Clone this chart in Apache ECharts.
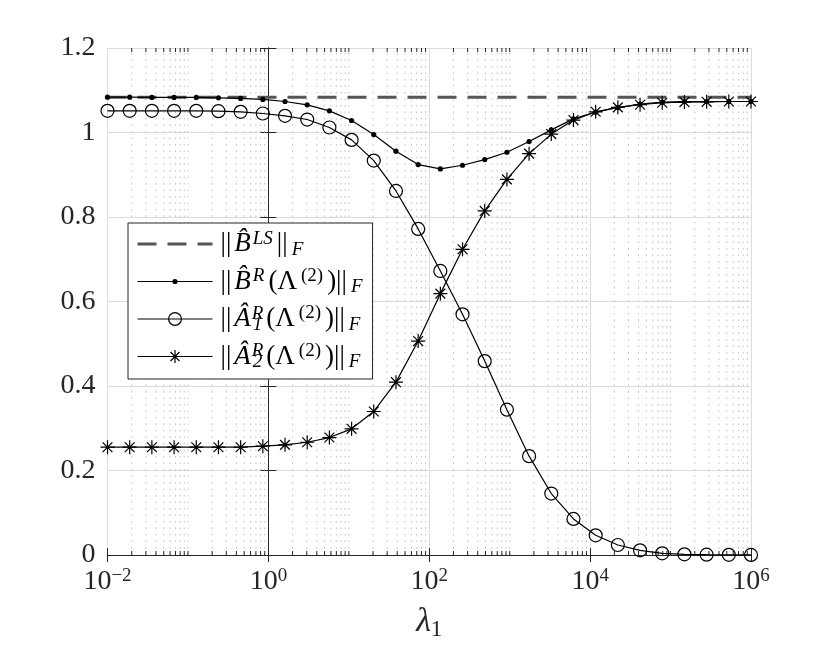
<!DOCTYPE html>
<html>
<head>
<meta charset="utf-8">
<title>Norms versus lambda_1</title>
<script src="https://cdn.jsdelivr.net/npm/echarts@6/dist/echarts.min.js"></script>
<style>
	html, body { margin: 0; padding: 0; background: #fff; }
	#chart { width: 830px; height: 646px; }
</style>
</head>
<body>
<div id="chart"></div>
<script>
// lambda_1 grid: 30 log-spaced points from 1e-2 to 1e6
var lambda = [0.01, 0.01887, 0.03562, 0.06724, 0.1269, 0.2395, 0.4520, 0.8532,
	1.610, 3.039, 5.736, 10.83, 20.43, 38.57, 72.80, 137.4, 259.3, 489.4, 923.7,
	1743, 3290, 6210, 11721, 22122, 41753, 78805, 148735, 280722, 529832, 1000000];

// ||B^LS||_F (constant)
var normBLS = 1.0837;
// ||B^R(Lambda^(2))||_F
var normBR = [1.0837, 1.0837, 1.0829, 1.0829, 1.0829, 1.0821, 1.0806, 1.0782, 1.0734, 1.0655,
	1.0513, 1.0284, 0.9952, 0.9557, 0.9240, 0.9138, 0.9225, 0.9359, 0.9533, 0.9786,
	1.0062, 1.0323, 1.0481, 1.0592, 1.0671, 1.0718, 1.0734, 1.0734, 1.0734, 1.0734];
// ||A1^R(Lambda^(2))||_F
var normA1 = [1.0513, 1.0513, 1.0513, 1.0513, 1.0513, 1.0505, 1.0489, 1.0450, 1.0394, 1.0307,
	1.0118, 0.9825, 0.9335, 0.8616, 0.7718, 0.6723, 0.5696, 0.4589, 0.3440, 0.2340,
	0.1455, 0.0854, 0.0466, 0.0237, 0.0111, 0.0040, 0.0016, 0.0008, 0.0004, 0.0002];
// ||A2^R(Lambda^(2))||_F
var normA2 = [0.2551, 0.2551, 0.2551, 0.2551, 0.2551, 0.2551, 0.2551, 0.2575, 0.2607, 0.2669,
	0.2780, 0.2986, 0.3397, 0.4091, 0.5063, 0.6186, 0.7236, 0.8144, 0.8890, 0.9500,
	0.9962, 1.0294, 1.0490, 1.0595, 1.0657, 1.0704, 1.0720, 1.0726, 1.0734, 1.0734];

// x tick labels are 10^e
var xTickExp = [-2, 0, 2, 4, 6];
var yMin = 0, yMax = 1.2, yStep = 0.2;

// minor grid / ticks: 2..9 x 10^e and the odd decades
var minorTicks = [];
for (var e = -2; e < 6; e++) {
	for (var k = 2; k <= 9; k++) minorTicks.push(k * Math.pow(10, e));
	if (e % 2 !== 0) minorTicks.push(Math.pow(10, e));
}

var serif = 'Liberation Serif';
var axisColor = '#262626';

function pairs(vals) {
	return vals.map(function (v, i) { return [Math.log10(lambda[i]), v]; });
}

// markers drawn in a common [-1,1] frame so legend and plot sizes match
var dotSymbol = 'path://M-1,-1 M1,1 M0.4,0 A0.4,0.4 0 1 1 -0.4,0 A0.4,0.4 0 1 1 0.4,0 Z';
var starSymbol = 'path://M0,-1 L0,1 M-1,0 L1,0 M-0.7,-0.7 L0.7,0.7 M-0.7,0.7 L0.7,-0.7';

var legendText = {
	LS: '{r|||}{i|B\u0302}{sp|LS}{r|||}{sb|F}',
	BR: '{r|||}{i|B\u0302}{sp|R}{r|(\u039B}{n|(2)}{r|)||}{sb|F}',
	A1: '{r|||}{i|A\u0302}{spz|R}{sb|1}{r|(\u039B}{n|(2)}{r|)||}{sb|F}',
	A2: '{r|||}{i|A\u0302}{spz|R}{sb|2}{r|(\u039B}{n|(2)}{r|)||}{sb|F}'
};

var chart = echarts.init(document.getElementById('chart'));
var option = {
	animation: false,
	backgroundColor: '#fff',
	grid: { left: 107.5, right: 79, top: 48, bottom: 91 },
	xAxis: [{
		type: 'value', min: xTickExp[0], max: xTickExp[xTickExp.length - 1], interval: 2,
		position: 'bottom',
		name: '{l|\u03BB}{s|1}', nameLocation: 'middle', nameGap: 48,
		nameTextStyle: {
			rich: {
				l: { fontFamily: serif, fontStyle: 'italic', fontSize: 34, lineHeight: 38, color: axisColor },
				s: { fontFamily: serif, fontSize: 23, lineHeight: 20, verticalAlign: 'bottom', color: axisColor }
			}
		},
		axisLine: { show: true, lineStyle: { color: axisColor, width: 1 } },
		axisTick: { inside: true, length: 7, lineStyle: { color: axisColor } },
		axisLabel: {
			margin: 12,
			formatter: function (v) {
				return '{b|10}{s|' + (v < 0 ? '\u2212' : '') + Math.abs(v) + '}';
			},
			rich: {
				b: { fontFamily: serif, fontSize: 28, lineHeight: 30, color: axisColor },
				s: { fontFamily: serif, fontSize: 19, lineHeight: 16, verticalAlign: 'top', color: axisColor }
			}
		},
		splitLine: { show: true, lineStyle: { color: '#dcdcdc', width: 1 } }
	}, {
		type: 'value', min: xTickExp[0], max: xTickExp[xTickExp.length - 1], interval: 2,
		position: 'top',
		axisLine: { show: true, lineStyle: { color: axisColor, width: 1 } },
		axisTick: { inside: true, length: 7, lineStyle: { color: axisColor } },
		axisLabel: { show: false },
		splitLine: { show: false }
	}],
	yAxis: [{
		type: 'value', min: yMin, max: yMax, interval: yStep,
		position: 'left',
		axisLine: { show: true, lineStyle: { color: axisColor, width: 1 } },
		axisTick: { inside: true, length: 8, lineStyle: { color: axisColor } },
		axisLabel: {
			margin: 12, fontFamily: serif, fontSize: 28, color: axisColor,
			formatter: function (v) { return String(+v.toFixed(1)); }
		},
		splitLine: { show: true, lineStyle: { color: '#dcdcdc', width: 1 } }
	}, {
		type: 'value', min: yMin, max: yMax, interval: yStep,
		position: 'right',
		axisLine: { show: true, lineStyle: { color: axisColor, width: 1 } },
		axisTick: { inside: true, length: 8, lineStyle: { color: axisColor } },
		axisLabel: { show: false },
		splitLine: { show: false }
	}],
	legend: {
		orient: 'vertical', left: 128, top: 223,
		padding: [6, 9, 7.5, 8], itemGap: 7.5, itemWidth: 75, itemHeight: 16,
		backgroundColor: '#fff', borderColor: axisColor, borderWidth: 1,
		selectedMode: false,
		data: ['LS', 'BR', 'A1', 'A2'],
		itemStyle: { borderWidth: 'inherit' },
		lineStyle: { width: 'inherit' },
		formatter: function (name) { return legendText[name]; },
		textStyle: {
			color: '#000',
			rich: {
				r: { fontFamily: serif, fontSize: 27, lineHeight: 30, padding: [0, 3] },
				i: { fontFamily: serif, fontStyle: 'italic', fontSize: 27, lineHeight: 30, padding: [0, 1, 0, 0] },
				sp: { fontFamily: serif, fontStyle: 'italic', fontSize: 19, lineHeight: 15, verticalAlign: 'top', padding: [0, 1] },
				spz: { fontFamily: serif, fontStyle: 'italic', fontSize: 19, lineHeight: 15, verticalAlign: 'top', width: 0 },
				n: { fontFamily: serif, fontSize: 19, lineHeight: 15, verticalAlign: 'top', padding: [0, 1] },
				sb: { fontFamily: serif, fontStyle: 'italic', fontSize: 19, lineHeight: 15, verticalAlign: 'bottom', padding: [0, 1] }
			}
		}
	},
	series: [{
		// dotted minor grid lines plus minor ticks on top and bottom
		type: 'custom', silent: true, z: 1,
		data: minorTicks.map(function (v) { return [Math.log10(v), 0]; }),
		encode: { x: 0, y: 1 },
		renderItem: function (params, api) {
			var x = api.value(0);
			var top = api.coord([x, yMax]);
			var bot = api.coord([x, yMin]);
			return {
				type: 'group',
				children: [
					{ type: 'line', shape: { x1: bot[0], y1: bot[1], x2: top[0], y2: top[1] },
						style: { stroke: '#bfbfbf', lineWidth: 1, lineDash: [1.5, 5] } },
					{ type: 'line', shape: { x1: bot[0], y1: bot[1], x2: bot[0], y2: bot[1] - 4 },
						style: { stroke: axisColor, lineWidth: 1 } },
					{ type: 'line', shape: { x1: top[0], y1: top[1], x2: top[0], y2: top[1] + 4 },
						style: { stroke: axisColor, lineWidth: 1 } }
				]
			};
		}
	}, {
		name: 'LS', type: 'line', z: 3,
		data: [[Math.log10(lambda[0]), normBLS], [Math.log10(lambda[lambda.length - 1]), normBLS]],
		symbol: 'none', showSymbol: false,
		itemStyle: { color: 'rgba(0,0,0,0)' },
		lineStyle: { color: '#555555', width: 3, type: [19, 11] }
	}, {
		name: 'BR', type: 'line', z: 4, clip: false,
		data: pairs(normBR),
		symbol: dotSymbol, symbolSize: 13,
		itemStyle: { color: '#000' },
		lineStyle: { color: '#000', width: 1.2 }
	}, {
		name: 'A1', type: 'line', z: 4, clip: false,
		data: pairs(normA1),
		symbol: 'circle', symbolSize: 13,
		itemStyle: { color: 'rgba(0,0,0,0)', borderColor: '#000', borderWidth: 1.2 },
		lineStyle: { color: '#000', width: 1.2 }
	}, {
		name: 'A2', type: 'line', z: 4, clip: false,
		data: pairs(normA2),
		symbol: starSymbol, symbolSize: 14,
		itemStyle: { color: '#000', borderColor: '#000', borderWidth: 1.2 },
		lineStyle: { color: '#000', width: 1.2 }
	}]
};
chart.setOption(option);
</script>
</body>
</html>
